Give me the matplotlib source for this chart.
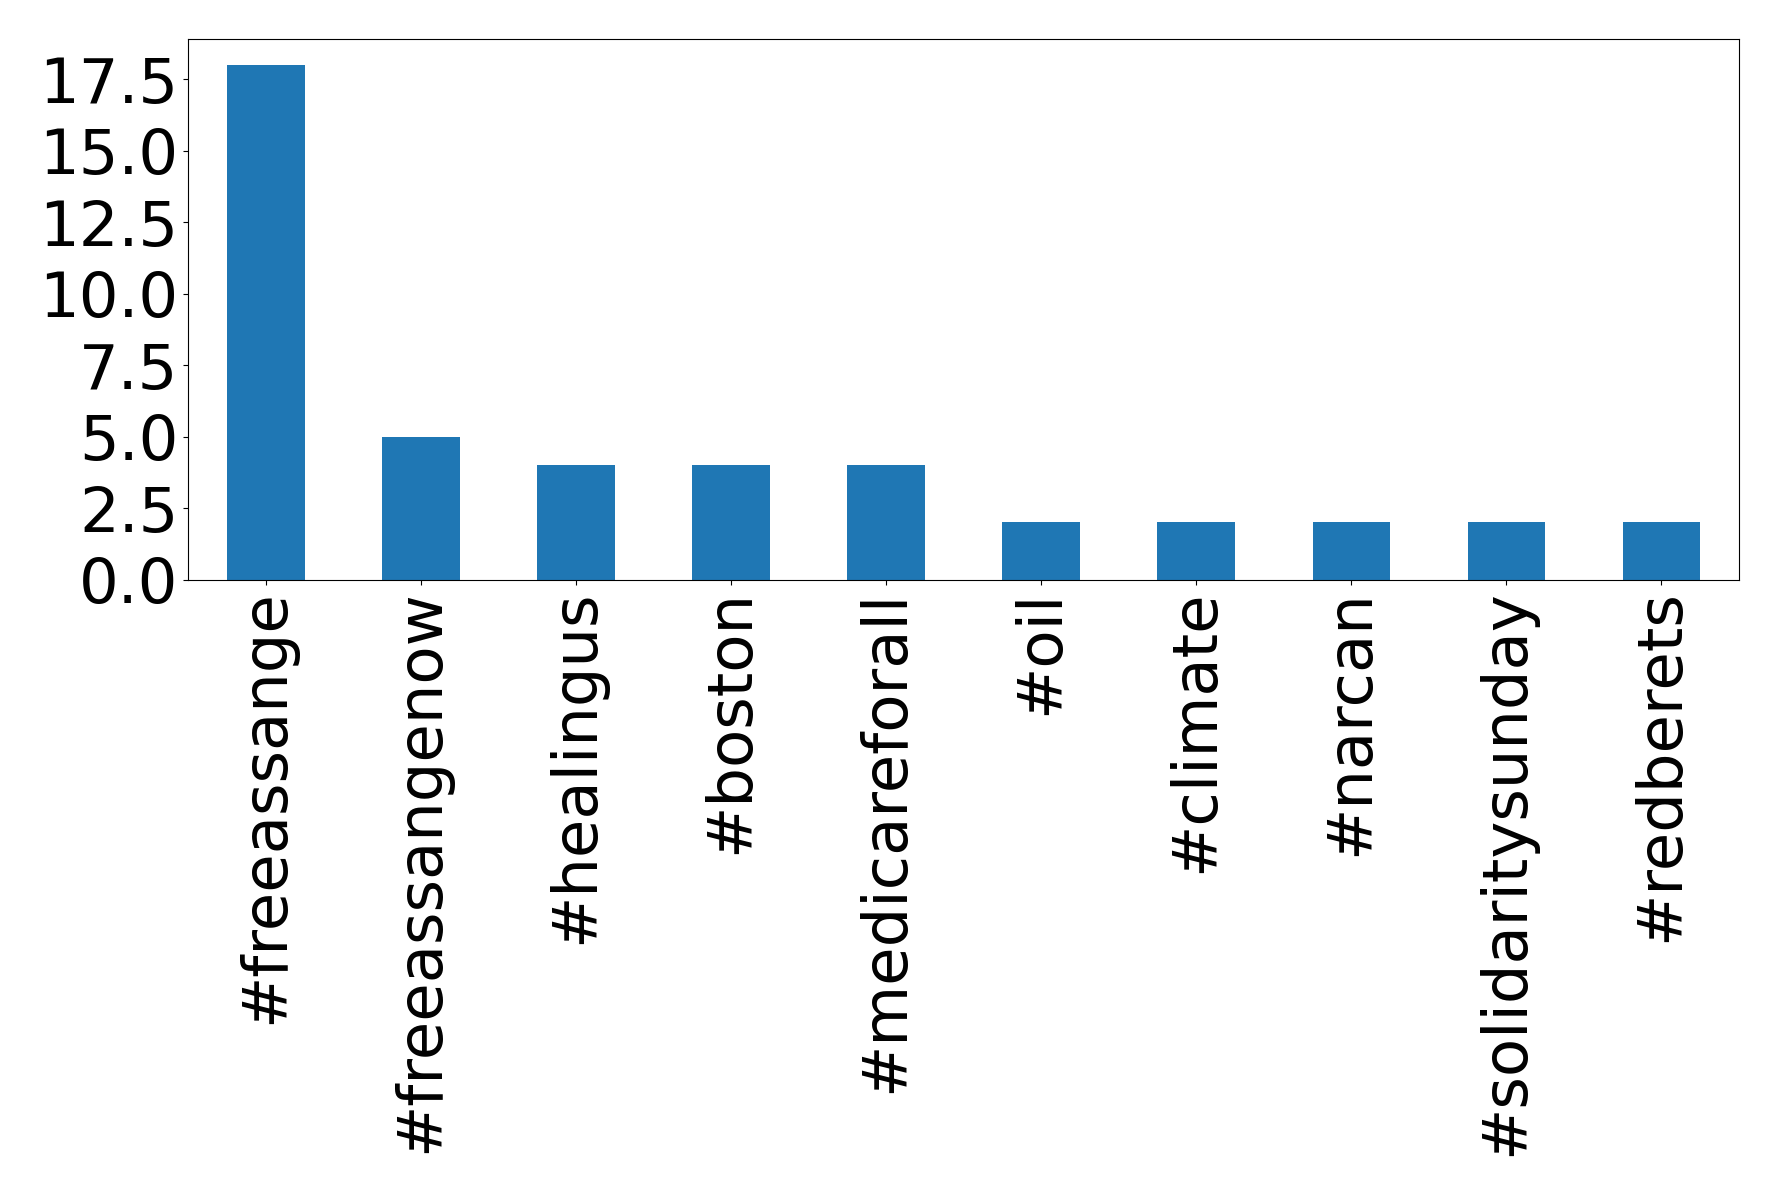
import matplotlib
matplotlib.use("Agg")
import matplotlib.pyplot as plt
import numpy as np

hashtags = ['#freeassange', '#freeassangenow', '#healingus', '#boston',
            '#medicareforall', '#oil', '#climate', '#narcan',
            '#solidaritysunday', '#redberets']
counts = [18, 5, 4, 4, 4, 2, 2, 2, 2, 2]

fig, ax = plt.subplots(figsize=(17.78, 11.95), dpi=100)
fig.subplots_adjust(left=0.106, right=0.978, top=0.967, bottom=0.515)

x = np.arange(len(hashtags))
ax.bar(x, counts, width=0.5, color='#1f77b4')
ax.set_xlim(-0.5, len(hashtags) - 0.5)
ax.set_xticks(x)
ax.set_xticklabels(hashtags, rotation=90)
ax.tick_params(axis='both', labelsize=45)
ax.set_yticks(np.arange(0, 18.1, 2.5))
ax.set_ylim(0, 18.9)

fig.savefig('out.png')
